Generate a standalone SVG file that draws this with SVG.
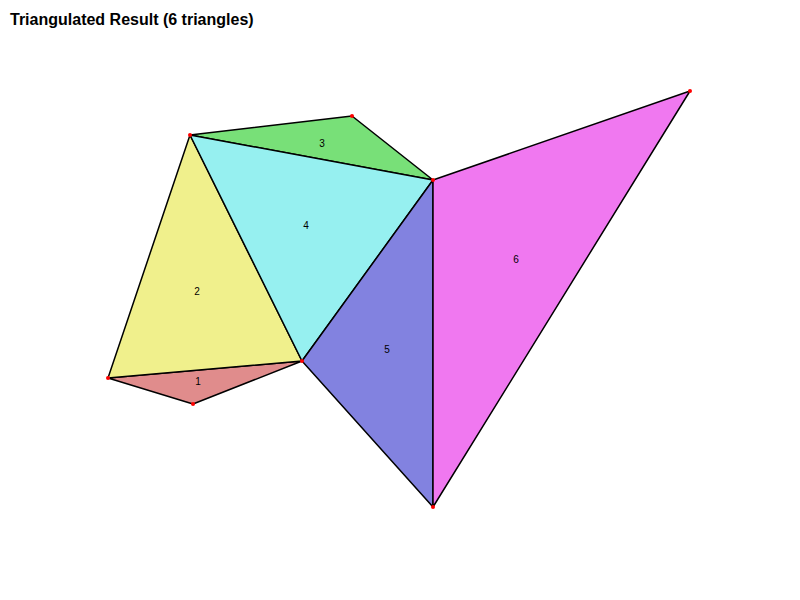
<svg xmlns="http://www.w3.org/2000/svg" width="800" height="600" viewBox="0 0 800 600">
<style>
.tri{stroke:#000;stroke-width:1.5;stroke-linejoin:round}
.lbl{font-family:"Liberation Sans",Arial,sans-serif;font-size:10px;fill:#000;text-anchor:middle;dominant-baseline:central}
.pt{fill:#ff0000}
.title{font-family:"Liberation Sans",Arial,sans-serif;font-size:16px;font-weight:bold;fill:#000}
</style>
<rect width="800" height="600" fill="#fff"/>
<text class="title" x="10" y="25">Triangulated Result (6 triangles)</text>
<g id="t1"><polygon class="tri" points="108,378 302,361 193,404" fill="#e08c8c"/><text class="lbl" x="198" y="381">1</text></g>
<g id="t2"><polygon class="tri" points="190,135 108,378 302,361" fill="#f0f08c"/><text class="lbl" x="197" y="291">2</text></g>
<g id="t3"><polygon class="tri" points="190,135 352,116 433,180" fill="#78e078"/><text class="lbl" x="322" y="143">3</text></g>
<g id="t4"><polygon class="tri" points="190,135 433,180 302,361" fill="#96f0f0"/><text class="lbl" x="306" y="225">4</text></g>
<g id="t5"><polygon class="tri" points="433,180 302,361 433,507" fill="#8282e0"/><text class="lbl" x="387" y="349">5</text></g>
<g id="t6"><polygon class="tri" points="433,180 690,91 433,507" fill="#f078f0"/><text class="lbl" x="516" y="259">6</text></g>
<g id="points">
<circle class="pt" cx="190" cy="135" r="2"/>
<circle class="pt" cx="352" cy="116" r="2"/>
<circle class="pt" cx="433" cy="180" r="2"/>
<circle class="pt" cx="690" cy="91" r="2"/>
<circle class="pt" cx="433" cy="507" r="2"/>
<circle class="pt" cx="302" cy="361" r="2"/>
<circle class="pt" cx="108" cy="378" r="2"/>
<circle class="pt" cx="193" cy="404" r="2"/>
</g>
</svg>
